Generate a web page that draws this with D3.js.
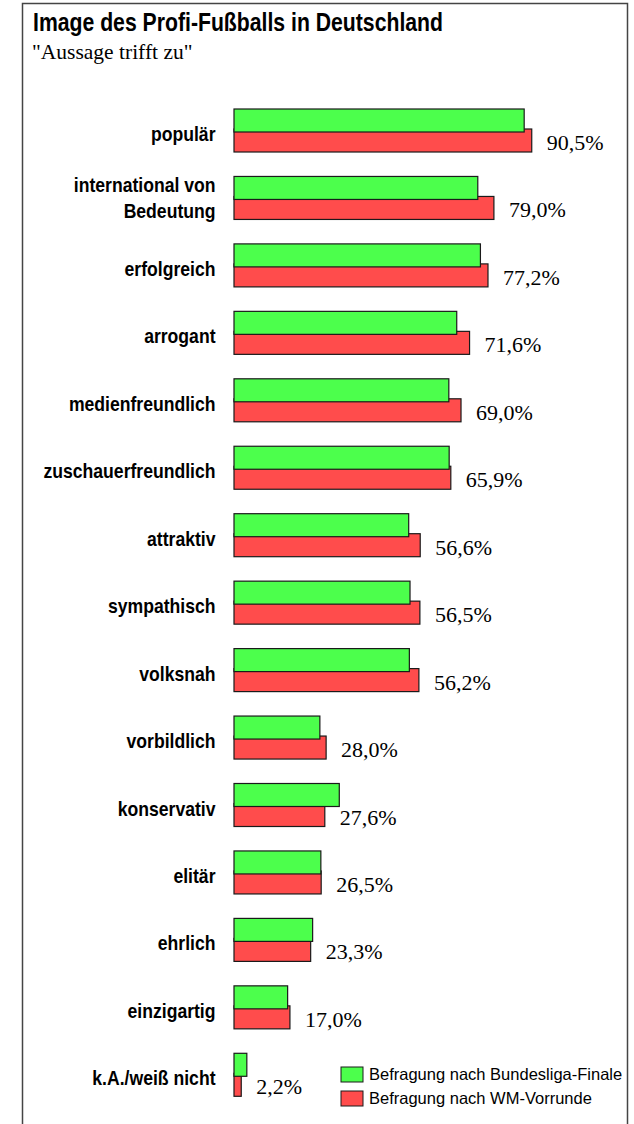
<!DOCTYPE html>
<html>
<head>
<meta charset="utf-8">
<script src="https://cdn.jsdelivr.net/npm/d3@7"></script>
<style>
  html, body { margin: 0; padding: 0; background: #fff; }
  svg { display: block; }
</style>
</head>
<body>
<svg id="chart" width="634" height="1124"></svg>
<script>
const title = "Image des Profi-Fußballs in Deutschland";
const subtitle = "\"Aussage trifft zu\"";
const categories = [
  "populär",
  "international von\nBedeutung",
  "erfolgreich",
  "arrogant",
  "medienfreundlich",
  "zuschauerfreundlich",
  "attraktiv",
  "sympathisch",
  "volksnah",
  "vorbildlich",
  "konservativ",
  "elitär",
  "ehrlich",
  "einzigartig",
  "k.A./weiß nicht"
];
const seriesNames = ["Befragung nach Bundesliga-Finale", "Befragung nach WM-Vorrunde"];
const bundesligaFinale = [88.2, 74.1, 74.9, 67.7, 65.3, 65.4, 53.1, 53.5, 53.3, 26.1, 32.0, 26.4, 23.9, 16.3, 3.9];
const wmVorrunde = [90.5, 79.0, 77.2, 71.6, 69.0, 65.9, 56.6, 56.5, 56.2, 28.0, 27.6, 26.5, 23.3, 17.0, 2.2];
const valueLabels = ["90,5%", "79,0%", "77,2%", "71,6%", "69,0%", "65,9%", "56,6%", "56,5%", "56,2%", "28,0%", "27,6%", "26,5%", "23,3%", "17,0%", "2,2%"];

const GREEN = "#4cff4c";
const RED = "#ff4c4c";
const SANS = "'Liberation Sans', Arial, sans-serif";
const SERIF = "'Liberation Serif', 'Times New Roman', serif";

const svg = d3.select("#chart");

// frame (left, top, right)
svg.append("path")
  .attr("d", "M22.5,1124 L22.5,3.5 L627.5,3.5 L627.5,1124")
  .attr("fill", "none")
  .attr("stroke", "#444")
  .attr("stroke-width", 1.5);

// title
svg.append("text")
  .attr("x", 33).attr("y", 31)
  .attr("font-family", SANS).attr("font-weight", 700)
  .attr("font-size", 26)
  .attr("textLength", 410).attr("lengthAdjust", "spacingAndGlyphs")
  .attr("fill", "#000")
  .text(title);

svg.append("text")
  .attr("x", 32).attr("y", 59)
  .attr("font-family", SERIF).attr("font-size", 21.5)
  .attr("fill", "#000")
  .text(subtitle);

const x = d3.scaleLinear().domain([0, 100]).range([234, 563]);
const y = d3.scaleBand()
  .domain(d3.range(categories.length))
  .range([109, 109 + categories.length * 67.45])
  .padding(0);

const barH = 23;
const redOffset = 20;

const rows = svg.append("g").selectAll("g.row")
  .data(categories.map((c, i) => ({ c, i, g: bundesligaFinale[i], r: wmVorrunde[i], lab: valueLabels[i] })))
  .join("g")
  .attr("class", "row");

// red bars (behind)
rows.append("rect")
  .attr("x", x(0))
  .attr("y", d => y(d.i) + redOffset)
  .attr("width", d => x(d.r) - x(0))
  .attr("height", barH)
  .attr("fill", RED)
  .attr("stroke", "#1a1a1a")
  .attr("stroke-width", 1.2);

// green bars (front)
rows.append("rect")
  .attr("x", x(0))
  .attr("y", d => y(d.i))
  .attr("width", d => x(d.g) - x(0))
  .attr("height", barH)
  .attr("fill", GREEN)
  .attr("stroke", "#1a1a1a")
  .attr("stroke-width", 1.2);

// value labels
rows.append("text")
  .attr("x", d => x(d.r) + 15)
  .attr("y", d => y(d.i) + 41)
  .attr("font-family", SERIF)
  .attr("font-size", 22)
  .attr("fill", "#000")
  .text(d => d.lab);

// category labels
rows.each(function(d) {
  const lines = d.c.split("\n");
  const g = d3.select(this);
  const baselines = lines.length === 1 ? [32] : [16, 41.5];
  lines.forEach((ln, k) => {
    g.append("text")
      .attr("transform", `translate(215.5,${y(d.i) + baselines[k]}) scale(0.88,1)`)
      .attr("text-anchor", "end")
      .attr("font-family", SANS)
      .attr("font-weight", 700)
      .attr("font-size", 20)
      .attr("fill", "#000")
      .text(ln);
  });
});

// legend
const legend = svg.append("g");
const legColors = [GREEN, RED];
seriesNames.forEach((name, k) => {
  legend.append("rect")
    .attr("x", 341).attr("y", 1067 + k * 24)
    .attr("width", 22).attr("height", 15)
    .attr("fill", legColors[k])
    .attr("stroke", "#1a1a1a").attr("stroke-width", 1);
  legend.append("text")
    .attr("x", 369).attr("y", 1080 + k * 23.5)
    .attr("font-family", SANS)
    .attr("font-size", 16.5)
    .attr("fill", "#000")
    .text(name);
});
</script>
</body>
</html>
